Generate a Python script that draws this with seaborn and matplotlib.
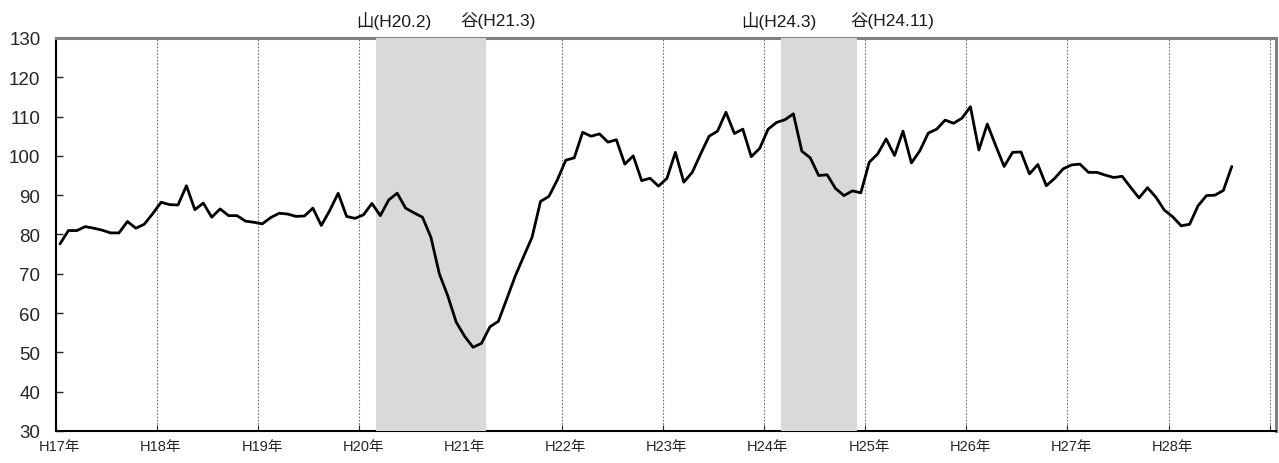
import seaborn as sns
import matplotlib.pyplot as plt
import matplotlib.transforms as mtransforms
import pandas as pd
import numpy as np

# ----------------------------
# Data (monthly index, H17.1 - H28.8)
# ----------------------------
years = ["H17", "H18", "H19", "H20", "H21", "H22", "H23", "H24",
         "H25", "H26", "H27", "H28"]

values = [
    77.6, 81.0, 81.0, 82.0, 81.6, 81.1, 80.4, 80.4, 83.3, 81.6, 82.6, 85.3,      # H17
    88.2, 87.6, 87.5, 92.4, 86.3, 88.0, 84.4, 86.5, 84.8, 84.8, 83.4, 83.1,      # H18
    82.7, 84.3, 85.4, 85.2, 84.6, 84.7, 86.7, 82.3, 86.1, 90.5, 84.6, 84.1,      # H19
    85.0, 87.9, 84.8, 88.8, 90.5, 86.7, 85.5, 84.4, 79.3, 70.0, 64.4, 57.7,      # H20
    54.1, 51.3, 52.3, 56.5, 57.9, 63.6, 69.4, 74.4, 79.3, 88.4, 89.7, 93.9,      # H21
    98.9, 99.5, 106.0, 105.0, 105.6, 103.5, 104.1, 97.9, 100.0, 93.7, 94.3, 92.3,   # H22
    94.3, 100.9, 93.3, 95.8, 100.5, 105.0, 106.3, 111.1, 105.7, 106.8, 99.8, 101.9,  # H23
    106.8, 108.5, 109.2, 110.7, 101.2, 99.5, 95.0, 95.2, 91.7, 89.9, 91.1, 90.6,  # H24
    98.4, 100.5, 104.3, 100.1, 106.3, 98.2, 101.3, 105.8, 106.8, 109.1, 108.3, 109.6,  # H25
    112.5, 101.5, 108.1, 102.6, 97.3, 100.9, 101.0, 95.4, 97.8, 92.4, 94.3, 96.7,  # H26
    97.7, 97.9, 95.8, 95.8, 95.1, 94.5, 94.8, 92.0, 89.3, 91.9, 89.5, 86.2,      # H27
    84.5, 82.2, 82.6, 87.3, 89.9, 90.0, 91.2, 97.3,                              # H28
]

# recession periods (months counted from H17.1) and their labels
band_start = [38, 86]
band_end = [51, 95]
peak_labels = ["山(H20.2)", "山(H24.3)"]
trough_labels = ["谷(H21.3)", "谷(H24.11)"]

df = pd.DataFrame({"month": np.arange(len(values)) + 0.5, "value": values})

# ----------------------------
# Plot
# ----------------------------
sns.set_style("white")
plt.rcParams["font.family"] = ["Liberation Sans", "Noto Sans CJK JP", "DejaVu Sans"]

fig = plt.figure(figsize=(12.79, 4.64), dpi=100)
ax = fig.add_axes([0.0436, 0.069, 0.9544, 0.847])

for s, e in zip(band_start, band_end):
    ax.axvspan(s, e, color="#d9d9d9", lw=0, zorder=3)

sns.lineplot(data=df, x="month", y="value", color="black", linewidth=2.0,
             ax=ax, zorder=4)

ax.set_xlim(0, 144.8)
ax.set_ylim(30, 130)
ax.set_yticks(range(30, 131, 10))
ax.set_xticks(range(0, 145, 12))
ax.set_xticklabels([y + "年" for y in years] + [""])
ax.set_xlabel("")
ax.set_ylabel("")

ax.grid(axis="x", color="#707070", linestyle=(0, (1.5, 1.5)), linewidth=0.8)
ax.grid(axis="y", visible=False)

ax.tick_params(axis="y", direction="in", length=5, width=1, labelsize=13.5,
               pad=11, left=True)
ax.tick_params(axis="x", direction="in", length=4, width=0.8, labelsize=10.5,
               pad=6, bottom=True)

# labels sit a little right of each year boundary
offset = mtransforms.ScaledTranslation(4 / 100, 0, fig.dpi_scale_trans)
for lab in ax.get_xticklabels():
    lab.set_transform(lab.get_transform() + offset)

for side in ["left", "bottom"]:
    ax.spines[side].set_color("black")
    ax.spines[side].set_linewidth(1.5)
for side in ["top", "right"]:
    ax.spines[side].set_color("#808080")
    ax.spines[side].set_linewidth(2.2)

# peak / trough labels above the plot
label_pos = [40.1, 52.5, 85.8, 99.2]
label_txt = [peak_labels[0], trough_labels[0], peak_labels[1], trough_labels[1]]
trans = mtransforms.blended_transform_factory(ax.transData, ax.transAxes)
for xp, t in zip(label_pos, label_txt):
    ax.text(xp, 1.046, t, transform=trans, ha="center", va="center",
            fontsize=12.5, color="#1a1a1a")

plt.savefig("out.png", dpi=100)
plt.close()
